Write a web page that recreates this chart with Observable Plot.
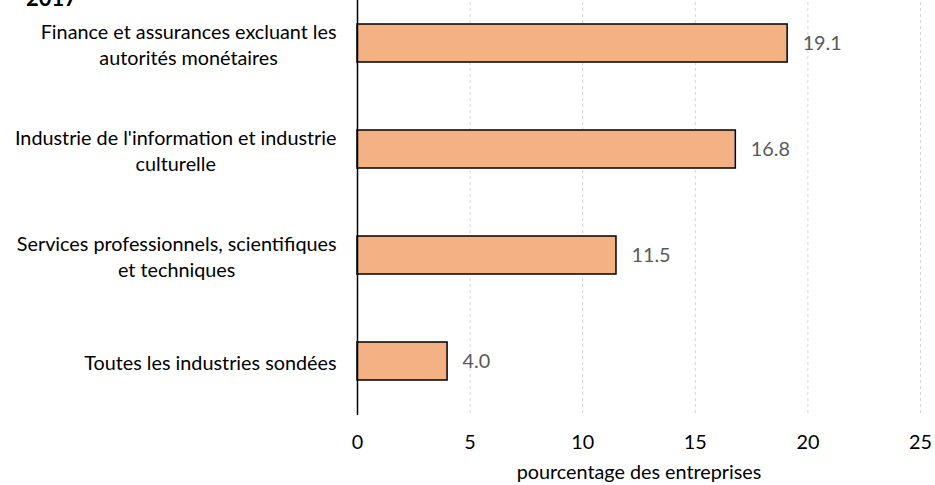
<!DOCTYPE html>
<html>
<head>
<meta charset="utf-8">
<script src="https://cdn.jsdelivr.net/npm/d3@7"></script>
<script src="https://cdn.jsdelivr.net/npm/@observablehq/plot@0.6"></script>
<style>
  body { margin: 0; background: #fff; }
  #wrap { position: relative; width: 935px; height: 485px; overflow: hidden; background: #fff; }
  #title { position: absolute; left: 26px; top: -13px; font: bold 22px Lato, sans-serif; color: #000; line-height: 1; }
  #chart svg { display: block; margin-top: -10px; }
</style>
</head>
<body>
<div id="wrap">
  <div id="chart"></div>
  <div id="title">2017</div>
</div>
<script>
const categories = [
  "Finance et assurances excluant les\nautorités monétaires",
  "Industrie de l'information et industrie\nculturelle",
  "Services professionnels, scientifiques\net techniques",
  "Toutes les industries sondées"
];
const values = [19.1, 16.8, 11.5, 4.0];
const xTicks = [0, 5, 10, 15, 20, 25];
const gridTicks = [5, 10, 15, 20, 25];
const xLabel = "pourcentage des entreprises";

const data = categories.map((c, i) => ({category: c, value: values[i]}));

const FONT = "Lato";
const FS = 19.8;
const ctx = document.createElement("canvas").getContext("2d");
ctx.font = `${FS}px ${FONT}`;
const maxLineWidth = c => Math.max(...c.split("\n").map(l => ctx.measureText(l).width));

const labelMarks = categories.map(c =>
  Plot.text([c], {
    y: d => d, frameAnchor: "left", textAnchor: "middle",
    dx: -(21 + maxLineWidth(c) / 2), lineHeight: 1.3,
    fontSize: FS, fill: "#000"
  })
);

const chart = Plot.plot({
  width: 935,
  height: 495,
  marginTop: 0,
  marginBottom: 70,
  marginLeft: 357,
  marginRight: 15,
  style: {fontFamily: FONT, fontSize: FS + "px", color: "#000", background: "#fff"},
  x: {domain: [0, 25]},
  y: {domain: categories, type: "band", paddingInner: 0.64, paddingOuter: 0.32, axis: null},
  marks: [
    Plot.gridX(gridTicks, {stroke: "#d4d4d4", strokeOpacity: 1, strokeDasharray: "3,3"}),
    Plot.barX(data, {x: "value", y: "category", fill: "#f4b183", stroke: "#000", strokeWidth: 1.5}),
    Plot.ruleX([0], {stroke: "#000", strokeWidth: 1.5}),
    Plot.text(data, {x: "value", y: "category", text: d => d.value.toFixed(1), dx: 15, textAnchor: "start", fill: "#595959", fontSize: FS}),
    Plot.axisX({ticks: xTicks, tickSize: 0, tickPadding: 19, label: null, fontSize: FS}),
    Plot.text([xLabel], {frameAnchor: "bottom", dy: 63, fontSize: FS, fill: "#000"}),
    ...labelMarks
  ]
});
document.getElementById("chart").appendChild(chart);
</script>
</body>
</html>
